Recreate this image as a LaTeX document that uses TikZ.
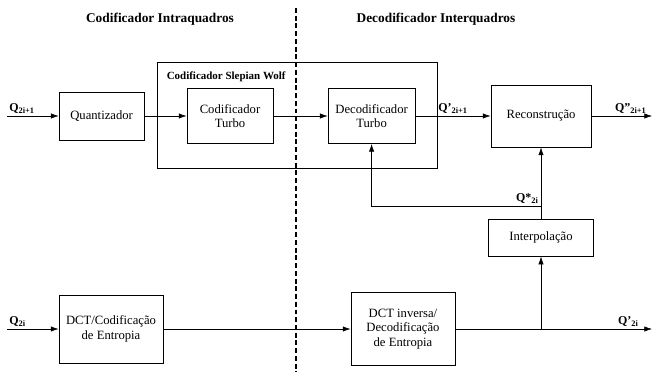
\documentclass[tikz,border=0pt]{standalone}
\usepackage{fontspec}
\setmainfont{Liberation Serif}
\usetikzlibrary{positioning,arrows.meta}
\begin{document}
\begin{tikzpicture}[>={Latex[length=5.5pt,width=3.8pt]}, font=\fontsize{9}{10.5}\selectfont,
  bloco/.style={draw, line width=0.7pt, align=center, inner sep=0pt},
  sinal/.style={font=\fontsize{8.5}{9}\selectfont\bfseries, inner sep=1.5pt},
  titulo/.style={font=\fontsize{9.5}{10}\selectfont\bfseries, inner sep=0pt}]
\useasboundingbox (0,0) rectangle (16.35,-9.3);
% titulos e separacao
\node[titulo] (intra) at (4.0,-0.475) {Codificador Intraquadros};
\node[titulo] (inter) at (10.9,-0.475) {Decodificador Interquadros};
\draw[line width=0.8pt, dash pattern=on 3.5pt off 2pt] (7.4,-0.2) -- (7.4,-9.3);
% Slepian Wolf
\node[draw, line width=0.7pt, minimum width=7cm, minimum height=2.65cm] (sw) at (7.425,-2.875) {};
\node[titulo, font=\fontsize{7.8}{9}\selectfont\bfseries, anchor=west] (swtxt) at ([xshift=0.25cm,yshift=-0.375cm]sw.north west) {Codificador Slepian Wolf};
% blocos
\node[bloco, minimum width=2.125cm, minimum height=1.2cm] (quant) at (2.54,-2.9) {Quantizador};
\node[bloco, minimum width=2.15cm, minimum height=1.375cm] (codturbo) at (5.75,-2.9) {Codificador\\Turbo};
\node[bloco, minimum width=2.175cm, minimum height=1.375cm] (decturbo) at (9.29,-2.9) {Decodificador\\Turbo};
\node[bloco, minimum width=2.5cm, minimum height=1.55cm] (recon) at (13.525,-2.9) {Reconstrução};
\node[bloco, minimum width=2.625cm, minimum height=0.925cm] (interp) at (13.525,-5.94) {Interpolação};
\node[bloco, minimum width=2.6cm, minimum height=1.7cm] (dct) at (2.775,-8.225) {DCT/Codificação\\de Entropia};
\node[bloco, minimum width=2.6cm, minimum height=1.825cm] (idct) at (10.075,-8.225) {DCT inversa/\\Decodificação\\de Entropia};
% entradas e saidas
\coordinate (in1) at (0.175,-2.9);
\coordinate (out1) at (16.3,-2.9);
\coordinate (in2) at (0.175,-8.225);
\coordinate (out2) at (16.3,-8.225);
\coordinate (fb) at (13.525,-5.15);
% ligacoes
\draw[->] (in1) node[sinal, above right] {Q\textsubscript{2i+1}} -- (quant);
\draw[->] (quant) -- (codturbo);
\draw[->] (codturbo) -- (decturbo);
\draw[->] (decturbo) -- node[sinal, above] {Q'\textsubscript{2i+1}} (recon);
\draw[->] (recon) -- node[sinal, above, pos=0.65] {Q''\textsubscript{2i+1}} (out1);
\draw[->] (in2) node[sinal, above right] {Q\textsubscript{2i}} -- (dct);
\draw[->] (dct) -- (idct);
\draw[->] (idct) -- node[sinal, above, pos=0.88] {Q'\textsubscript{2i}} (out2);
\draw[->] (interp.south |- idct.east) -- (interp);
\draw[->] (interp) -- (recon);
\draw[->] (fb) node[sinal, above left] {Q*\textsubscript{2i}} -| (decturbo);
\end{tikzpicture}
\end{document}
